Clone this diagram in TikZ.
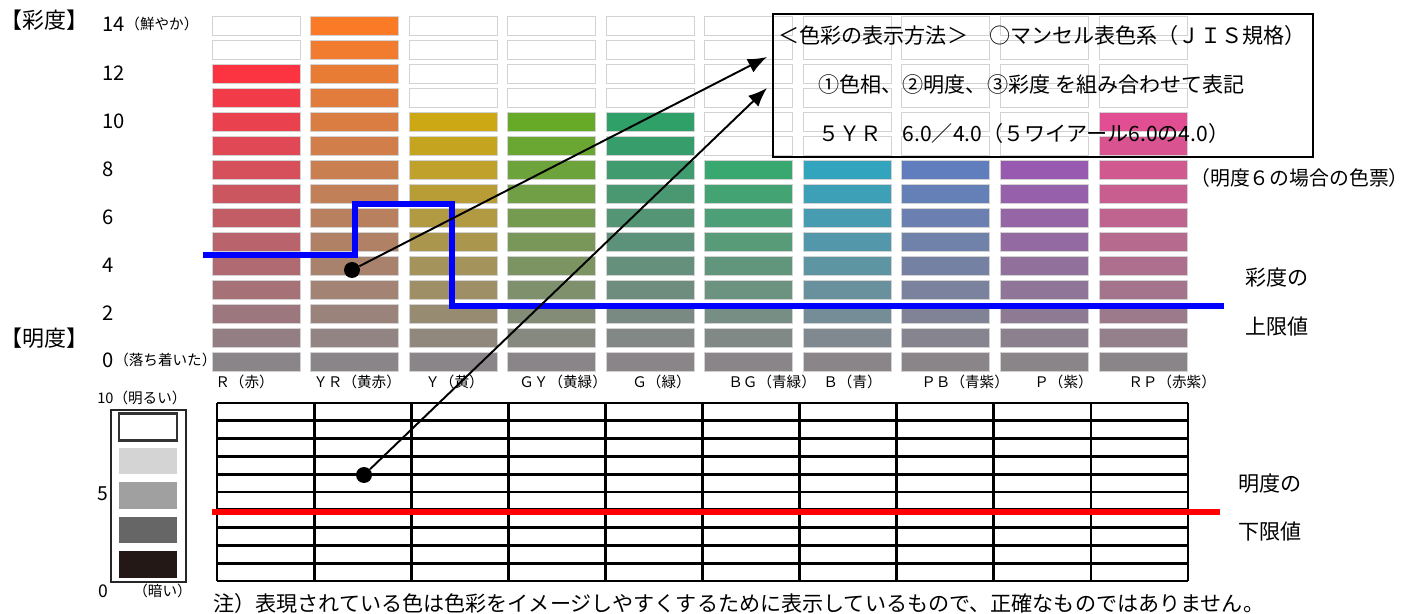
\documentclass[tikz,border=0pt]{standalone}
\usepackage{fontspec}
\setmainfont{Noto Sans CJK JP}
\usepackage{tikz}
\usetikzlibrary{positioning,arrows.meta,calc}

\definecolor{colGris}{RGB}{138,133,137}
\definecolor{cR}{RGB}{252,52,66}
\definecolor{cYR}{RGB}{250,122,38}
\definecolor{cY}{RGB}{204,168,20}
\definecolor{cGY}{RGB}{102,170,40}
\definecolor{cG}{RGB}{46,160,104}
\definecolor{cBG}{RGB}{56,168,112}
\definecolor{cB}{RGB}{50,164,190}
\definecolor{cPB}{RGB}{96,126,190}
\definecolor{cP}{RGB}{152,90,176}
\definecolor{cRP}{RGB}{226,78,146}
\definecolor{azulFuerte}{RGB}{0,0,255}
\definecolor{rojoFuerte}{RGB}{255,0,0}

\begin{document}
    \begin{tikzpicture}[x=0.02cm, y=-0.02cm,
        celda/.style={rectangle, draw=gray!35, line width=0.5pt, minimum width=1.76cm, minimum height=0.38cm, inner sep=0},
        caja/.style={rectangle, minimum width=1.16cm, minimum height=0.54cm, inner sep=0},
        texto/.style={anchor=west, inner sep=0, font=\fontsize{12}{14}\selectfont},
        chico/.style={anchor=west, inner sep=0, font=\fontsize{8.3}{10}\selectfont},
        punto/.style={circle, fill=black, minimum size=0.32cm, inner sep=0},
        flecha/.style={line width=1.1pt, -{Latex[length=0.38cm,width=0.3cm]}},
        linea/.style={line width=1.6pt}]

    \useasboundingbox (0,0) rectangle (1420,614);

    % Definimos las celdas de color (tono x croma)
    \foreach \col/\ini [count=\i from 0] in {cR/2,cYR/0,cY/4,cGY/4,cG/4,cBG/6,cB/6,cPB/6,cP/6,cRP/4} {
        \foreach \j in {0,...,14} {
            \pgfmathsetmacro{\px}{256+98.55*\i}
            \pgfmathsetmacro{\py}{25.5+24*\j}
            \ifnum\j<\ini
                \node[celda, fill=white] (c\i-\j) at (\px,\py) {};
            \else
                \pgfmathtruncatemacro{\pct}{100*(14-\j)/(14-\ini)}
                \node[celda, fill=\col!\pct!colGris] (c\i-\j) at (\px,\py) {};
            \fi
        }
    }

    % Etiquetas del croma
    \node[texto, font=\fontsize{12.5}{14}\selectfont] (tSaido) at (0,20) {【彩度】};
    \node[texto, font=\fontsize{11.5}{14}\selectfont] (s14) at (102,24) {14};
    \node[chico] (s14b) at (s14.east) {（鮮やか）};
    \foreach \n/\y in {12/73,10/121,8/169,6/217,4/265,2/313} {
        \node[texto, font=\fontsize{11.5}{14}\selectfont] (s\n) at (102,\y) {\n};
    }
    \node[texto, font=\fontsize{11.5}{14}\selectfont] (s0) at (102,360) {0};
    \node[chico] (s0b) at (s0.east) {（落ち着いた）};

    % Etiquetas de los tonos
    \foreach \t/\x [count=\k] in {Ｒ（赤）/215,ＹＲ（黄赤）/313,Ｙ（黄）/425,ＧＹ（黄緑）/519,Ｇ（緑）/632,ＢＧ（青緑）/728,Ｂ（青）/823,ＰＢ（青紫）/921,Ｐ（紫）/1034,ＲＰ（赤紫）/1128} {
        \node[chico] (h\k) at (\x,382) {\t};
    }

    % Cuadro explicativo
    \node[rectangle, draw, line width=1pt, minimum width=10.8cm, minimum height=2.86cm] (info) at (1043,85.5) {};
    \node[texto] (info1) at (778,35) {＜色彩の表示方法＞　○マンセル表色系（ＪＩＳ規格）};
    \node[texto] (info2) at (818,85) {①色相、②明度、③彩度 を組み合わせて表記};
    \node[texto] (info3) at (818,133) {５ＹＲ　6.0／4.0（５ワイアール6.0の4.0）};
    \node[texto, font=\fontsize{11.3}{14}\selectfont] (nota6) at (1190,178) {（明度６の場合の色票）};

    % Límite del croma
    \draw[azulFuerte, line width=3.4pt] (203,255) -- (355,255) -- (355,204) -- (452,204) -- (452,306) -- (1224,306);
    \node[texto] (lim1) at (1245,278) {彩度の};
    \node[texto] (lim2) at (1245,326) {上限値};

    % Escala del valor (claridad)
    \node[texto, font=\fontsize{12.5}{14}\selectfont] (tMeido) at (0,338) {【明度】};
    \draw[black!85, line width=1pt] (111,410) rectangle (186,582);
    \node[caja, draw=black!80, line width=1.2pt, fill=white] (v10) at (148,427) {};
    \node[caja, fill={rgb,255:red,212;green,212;blue,212}] (v8) at (148,461) {};
    \node[caja, fill={rgb,255:red,160;green,160;blue,160}] (v5) at (148,495.5) {};
    \node[caja, fill={rgb,255:red,102;green,102;blue,102}] (v3) at (148,530) {};
    \node[caja, fill={rgb,255:red,35;green,24;blue,22}] (v0) at (148,564.5) {};
    \node[chico] (e10) at (97,398) {10（明るい）};
    \node[texto, font=\fontsize{11}{14}\selectfont] (e5) at (97,494) {5};
    \node[texto, font=\fontsize{10}{14}\selectfont] (e0) at (98,591) {0};
    \node[chico] (e0b) at (133,591) {（暗い）};

    % Tabla inferior
    \foreach \k in {0,...,10} {
        \draw[linea] (217+97.1*\k,403) -- (217+97.1*\k,581);
        \draw[linea] (217,403+17.8*\k) -- (1188,403+17.8*\k);
    }
    \draw[rojoFuerte, line width=3.4pt] (212,512) -- (1220,512);
    \node[texto] (lim3) at (1238,484) {明度の};
    \node[texto] (lim4) at (1238,531) {下限値};

    % Puntos y flechas
    \node[punto] (p1) at (352,270) {};
    \node[punto] (p2) at (364,475) {};
    \coordinate (f1) at (767,57);
    \coordinate (f2) at (767,88);
    \draw[flecha] (p1) -- (f1);
    \draw[flecha] (p2) -- (f2);

    \node[texto] (nota) at (213,603) {注）表現されている色は色彩をイメージしやすくするために表示しているもので、正確なものではありません。};
    \end{tikzpicture}
\end{document}
